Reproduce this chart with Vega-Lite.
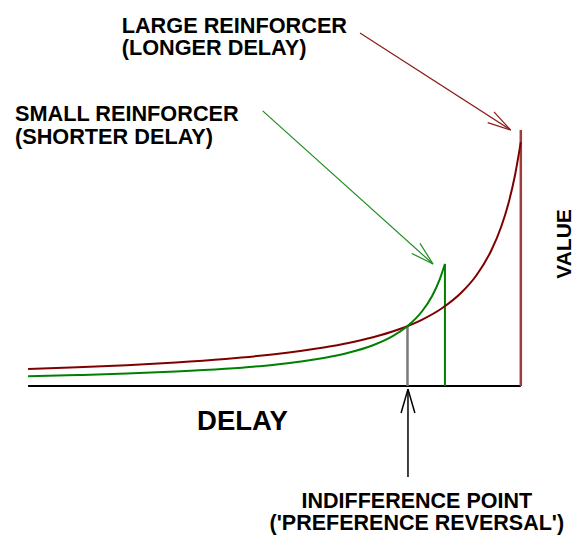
{
  "$schema": "https://vega.github.io/schema/vega-lite/v6.json",
  "width": 576,
  "height": 535,
  "autosize": "none",
  "padding": 0,
  "background": "white",
  "config": {"view": {"stroke": null}},
  "datasets": {
    "curves": [
      {"curve": "large", "delay": 0, "value": 0.664},
      {"curve": "large", "delay": 1, "value": 0.732},
      {"curve": "large", "delay": 2, "value": 0.816},
      {"curve": "large", "delay": 3, "value": 0.921},
      {"curve": "large", "delay": 4, "value": 1.058},
      {"curve": "large", "delay": 5, "value": 1.242},
      {"curve": "large", "delay": 6, "value": 1.503},
      {"curve": "large", "delay": 6.5, "value": 1.68},
      {"curve": "large", "delay": 7, "value": 1.904},
      {"curve": "large", "delay": 7.5, "value": 2.197},
      {"curve": "large", "delay": 8, "value": 2.597},
      {"curve": "large", "delay": 8.4, "value": 3.039},
      {"curve": "large", "delay": 8.8, "value": 3.663},
      {"curve": "large", "delay": 9.1, "value": 4.329},
      {"curve": "large", "delay": 9.4, "value": 5.292},
      {"curve": "large", "delay": 9.6, "value": 6.213},
      {"curve": "large", "delay": 9.75, "value": 7.144},
      {"curve": "large", "delay": 9.88, "value": 8.215},
      {"curve": "large", "delay": 10, "value": 9.53},
      {"curve": "small", "delay": 0, "value": 0.38},
      {"curve": "small", "delay": 1, "value": 0.427},
      {"curve": "small", "delay": 2, "value": 0.486},
      {"curve": "small", "delay": 3, "value": 0.564},
      {"curve": "small", "delay": 4, "value": 0.673},
      {"curve": "small", "delay": 5, "value": 0.833},
      {"curve": "small", "delay": 6, "value": 1.095},
      {"curve": "small", "delay": 6.5, "value": 1.298},
      {"curve": "small", "delay": 7, "value": 1.594},
      {"curve": "small", "delay": 7.4, "value": 1.949},
      {"curve": "small", "delay": 7.7, "value": 2.342},
      {"curve": "small", "delay": 8, "value": 2.93},
      {"curve": "small", "delay": 8.2, "value": 3.52},
      {"curve": "small", "delay": 8.35, "value": 4.148},
      {"curve": "small", "delay": 8.46, "value": 4.77}
    ],
    "segments": [
      {"kind": "axis", "d1": 0, "v1": 0, "d2": 10, "v2": 0},
      {"kind": "indiff", "d1": 7.7, "v1": 0, "d2": 7.7, "v2": 2.34},
      {"kind": "smallbar", "d1": 8.46, "v1": 0, "d2": 8.46, "v2": 4.77},
      {"kind": "largebar", "d1": 10, "v1": 0, "d2": 10, "v2": 10},
      {"kind": "redarrow", "d1": 6.736, "v1": 13.79, "d2": 9.795, "v2": 10.0},
      {"kind": "redarrow", "d1": 9.456, "v1": 10.71, "d2": 9.795, "v2": 10.0},
      {"kind": "redarrow", "d1": 9.328, "v1": 10.29, "d2": 9.795, "v2": 10.0},
      {"kind": "greenarrow", "d1": 4.761, "v1": 10.75, "d2": 8.218, "v2": 4.766},
      {"kind": "greenarrow", "d1": 7.954, "v1": 5.574, "d2": 8.218, "v2": 4.766},
      {"kind": "greenarrow", "d1": 7.786, "v1": 5.18, "d2": 8.218, "v2": 4.766},
      {"kind": "blackarrow", "d1": 7.71, "v1": -3.555, "d2": 7.71, "v2": -0.12},
      {"kind": "blackarrow", "d1": 7.57, "v1": -1.055, "d2": 7.71, "v2": -0.12},
      {"kind": "blackarrow", "d1": 7.85, "v1": -1.055, "d2": 7.71, "v2": -0.12}
    ],
    "labels": [
      {"group": "left", "label": "LARGE REINFORCER", "delay": 1.9, "value": 13.78},
      {"group": "left", "label": "(LONGER DELAY)", "delay": 1.9, "value": 12.93},
      {"group": "left", "label": "SMALL REINFORCER", "delay": -0.266, "value": 10.36},
      {"group": "left", "label": "(SHORTER DELAY)", "delay": -0.266, "value": 9.453},
      {"group": "center", "label": "INDIFFERENCE POINT", "delay": 7.89, "value": -4.754},
      {"group": "center", "label": "('PREFERENCE REVERSAL')", "delay": 7.89, "value": -5.625},
      {"group": "xtitle", "label": "DELAY", "delay": 3.43, "value": -1.719},
      {"group": "ytitle", "label": "VALUE", "delay": 10.9, "value": 5.55}
    ]
  },
  "encoding": {
    "x": {"type": "quantitative", "scale": {"domain": [-0.57, 11.12], "nice": false, "zero": false}, "axis": null},
    "y": {"type": "quantitative", "scale": {"domain": [-5.82, 15.08], "nice": false, "zero": false}, "axis": null}
  },
  "layer": [
    {
      "data": {"name": "segments"},
      "transform": [{"filter": "datum.kind === 'axis'"}],
      "mark": {"type": "rule", "color": "#000000", "strokeWidth": 2},
      "encoding": {"x": {"field": "d1", "type": "quantitative"}, "y": {"field": "v1", "type": "quantitative"}, "x2": {"field": "d2"}, "y2": {"field": "v2"}}
    },
    {
      "data": {"name": "segments"},
      "transform": [{"filter": "datum.kind === 'indiff'"}],
      "mark": {"type": "rule", "color": "#7a7a7a", "strokeWidth": 2.5},
      "encoding": {"x": {"field": "d1", "type": "quantitative"}, "y": {"field": "v1", "type": "quantitative"}, "x2": {"field": "d2"}, "y2": {"field": "v2"}}
    },
    {
      "data": {"name": "segments"},
      "transform": [{"filter": "datum.kind === 'smallbar'"}],
      "mark": {"type": "rule", "color": "#008000", "strokeWidth": 2},
      "encoding": {"x": {"field": "d1", "type": "quantitative"}, "y": {"field": "v1", "type": "quantitative"}, "x2": {"field": "d2"}, "y2": {"field": "v2"}}
    },
    {
      "data": {"name": "segments"},
      "transform": [{"filter": "datum.kind === 'largebar'"}],
      "mark": {"type": "rule", "color": "#a03c3c", "strokeWidth": 2.5},
      "encoding": {"x": {"field": "d1", "type": "quantitative"}, "y": {"field": "v1", "type": "quantitative"}, "x2": {"field": "d2"}, "y2": {"field": "v2"}}
    },
    {
      "data": {"name": "curves"},
      "transform": [{"filter": "datum.curve === 'large'"}],
      "mark": {"type": "line", "color": "#800000", "strokeWidth": 2, "interpolate": "monotone"},
      "encoding": {"x": {"field": "delay", "type": "quantitative"}, "y": {"field": "value", "type": "quantitative"}}
    },
    {
      "data": {"name": "curves"},
      "transform": [{"filter": "datum.curve === 'small'"}],
      "mark": {"type": "line", "color": "#008000", "strokeWidth": 2, "interpolate": "monotone"},
      "encoding": {"x": {"field": "delay", "type": "quantitative"}, "y": {"field": "value", "type": "quantitative"}}
    },
    {
      "data": {"name": "segments"},
      "transform": [{"filter": "datum.kind === 'redarrow'"}],
      "mark": {"type": "rule", "color": "#8b1a1a", "strokeWidth": 1.2},
      "encoding": {"x": {"field": "d1", "type": "quantitative"}, "y": {"field": "v1", "type": "quantitative"}, "x2": {"field": "d2"}, "y2": {"field": "v2"}}
    },
    {
      "data": {"name": "segments"},
      "transform": [{"filter": "datum.kind === 'greenarrow'"}],
      "mark": {"type": "rule", "color": "#1e8c1e", "strokeWidth": 1.2},
      "encoding": {"x": {"field": "d1", "type": "quantitative"}, "y": {"field": "v1", "type": "quantitative"}, "x2": {"field": "d2"}, "y2": {"field": "v2"}}
    },
    {
      "data": {"name": "segments"},
      "transform": [{"filter": "datum.kind === 'blackarrow'"}],
      "mark": {"type": "rule", "color": "#000000", "strokeWidth": 1.5},
      "encoding": {"x": {"field": "d1", "type": "quantitative"}, "y": {"field": "v1", "type": "quantitative"}, "x2": {"field": "d2"}, "y2": {"field": "v2"}}
    },
    {
      "data": {"name": "labels"},
      "transform": [{"filter": "datum.group === 'left'"}],
      "mark": {"type": "text", "align": "left", "baseline": "alphabetic", "font": "Liberation Sans", "fontWeight": "bold", "fontSize": 21.7, "color": "#000000"},
      "encoding": {"x": {"field": "delay", "type": "quantitative"}, "y": {"field": "value", "type": "quantitative"}, "text": {"field": "label", "type": "nominal"}}
    },
    {
      "data": {"name": "labels"},
      "transform": [{"filter": "datum.group === 'center'"}],
      "mark": {"type": "text", "align": "center", "baseline": "alphabetic", "font": "Liberation Sans", "fontWeight": "bold", "fontSize": 21.5, "color": "#000000"},
      "encoding": {"x": {"field": "delay", "type": "quantitative"}, "y": {"field": "value", "type": "quantitative"}, "text": {"field": "label", "type": "nominal"}}
    },
    {
      "data": {"name": "labels"},
      "transform": [{"filter": "datum.group === 'xtitle'"}],
      "mark": {"type": "text", "align": "left", "baseline": "alphabetic", "font": "Liberation Sans", "fontWeight": "bold", "fontSize": 27.5, "color": "#000000"},
      "encoding": {"x": {"field": "delay", "type": "quantitative"}, "y": {"field": "value", "type": "quantitative"}, "text": {"field": "label", "type": "nominal"}}
    },
    {
      "data": {"name": "labels"},
      "transform": [{"filter": "datum.group === 'ytitle'"}],
      "mark": {"type": "text", "align": "center", "baseline": "middle", "angle": 270, "font": "Liberation Sans", "fontWeight": "bold", "fontSize": 21, "color": "#000000"},
      "encoding": {"x": {"field": "delay", "type": "quantitative"}, "y": {"field": "value", "type": "quantitative"}, "text": {"field": "label", "type": "nominal"}}
    }
  ]
}
